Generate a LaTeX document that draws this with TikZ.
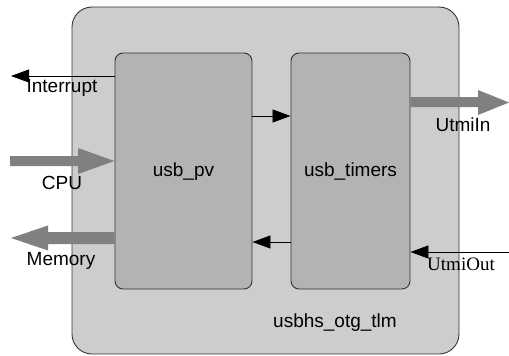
\documentclass[tikz,border=0pt]{standalone}
\usepackage{fontspec}
\setmainfont{Liberation Sans}
\newfontfamily\serifface{Liberation Serif}
\usetikzlibrary{arrows.meta,calc}
\definecolor{outerfill}{HTML}{CDCDCD}
\definecolor{innerfill}{HTML}{B3B3B3}
\definecolor{fatgray}{HTML}{808080}
\definecolor{edgecol}{HTML}{333333}
\tikzset{
  outerbox/.style={draw=edgecol, line width=0.9pt, fill=outerfill, rounded corners=20pt, inner sep=0pt},
  blockbox/.style={draw=edgecol, line width=0.9pt, fill=innerfill, rounded corners=8pt, inner sep=0pt, minimum height=236pt},
  lbl/.style={font=\fontsize{19}{22}\selectfont, inner sep=0pt},
  sig/.style={line width=0.8pt, -{Triangle[length=18pt,width=13pt]}},
  fat/.style={fill=fatgray}
}
\begin{document}
\begin{tikzpicture}[x=1pt,y=-1pt]
\useasboundingbox (0,0) rectangle (509,356);
\node[outerbox, minimum width=387pt, minimum height=347pt] (top) at (265.5,180.5) {};
\node[blockbox, minimum width=137pt] (pv) at (183.5,171) {};
\node[blockbox, minimum width=119pt] (tim) at (350.5,171) {};
\node[lbl] (pvl) at (183.5,172) {usb\_pv};
\node[lbl] (timl) at (350.5,172) {usb\_timers};
\node[lbl] (topl) at (335,323) {usbhs\_otg\_tlm};
% Interrupt
\coordinate (intEnd) at (11,76);
\draw[sig] (pv.west |- intEnd) -- (intEnd);
\node[lbl] (intl) at (62,88) {Interrupt};
% CPU
\coordinate (cpuTip) at (pv.west |- 0,161);
\fill[fat] (10,156) -- (78,156) -- (78,148) -- (cpuTip) -- (78,174) -- (78,166) -- (10,166) -- cycle;
\node[lbl] (cpul) at (62,183) {CPU};
% Memory
\coordinate (memStart) at (pv.west |- 0,238);
\fill[fat] ($(memStart)+(0,-6)$) -- (48,232) -- (48,225.5) -- (11,238) -- (48,250.5) -- (48,244) -- ($(memStart)+(0,6)$) -- cycle;
\node[lbl] (meml) at (61,261) {Memory};
% internal
\coordinate (r1) at (0,116);
\coordinate (r2) at (0,242);
\draw[sig] (pv.east |- r1) -- (tim.west |- r1);
\draw[sig] (tim.west |- r2) -- (pv.east |- r2);
% UtmiIn
\coordinate (uiStart) at (tim.east |- 0,102);
\fill[fat] ($(uiStart)+(0,-5)$) -- (478,97) -- (478,90) -- (509,102.5) -- (478,115) -- (478,107) -- ($(uiStart)+(0,5)$) -- cycle;
\node[lbl] (uil) at (463,125) {UtmiIn};
% UtmiOut
\coordinate (uoStart) at (509,252);
\draw[sig] (uoStart) -- (tim.east |- uoStart);
\node[lbl, font=\serifface\fontsize{19}{22}\selectfont] (uol) at (461,264) {UtmiOut};
\end{tikzpicture}
\end{document}
